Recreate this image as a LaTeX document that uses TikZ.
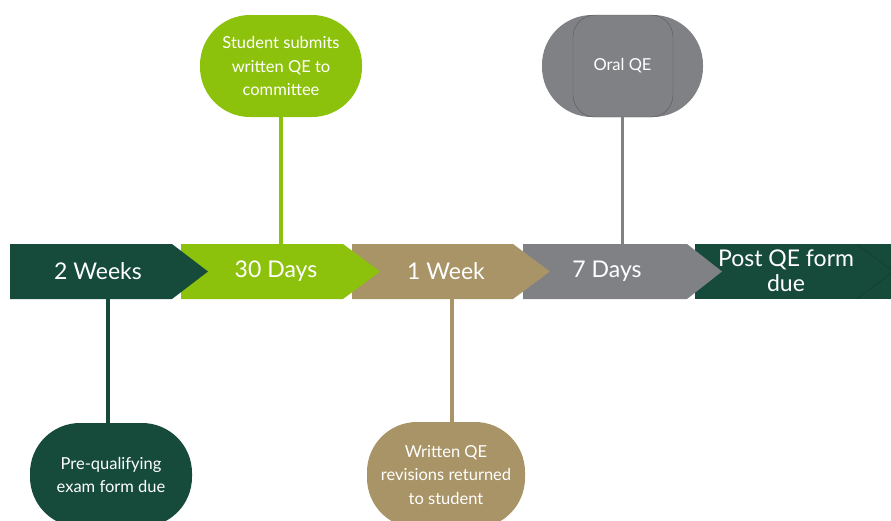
\documentclass[tikz,border=0pt]{standalone}
\usepackage{fontspec}
\setmainfont{Lato}
\definecolor{dkgreen}{HTML}{164B3C}
\definecolor{lime}{HTML}{8CC20B}
\definecolor{tan}{HTML}{A89467}
\definecolor{gry}{HTML}{808185}
\begin{document}
\begin{tikzpicture}[x=1pt,y=-1pt,
  bubble/.style={rounded corners=50pt, text=white, align=center, inner sep=0pt,
    font=\fontsize{16.5}{23.5}\selectfont},
  chevtext/.style={text=white, align=center, inner sep=0pt,
    font=\fontsize{23}{25}\selectfont},
  link/.style={line width=3.5pt}]
\useasboundingbox (0,0) rectangle (891,520);
\begin{scope}
\clip (0,0) rectangle (891,520);
% bubbles
\node[bubble, fill=lime, minimum width=162pt, minimum height=102pt] (b1) at (281,66) {Student submits\\written QE to\\committee};
\node[bubble, fill=gry, minimum width=161pt, minimum height=102pt] (b2) at (622.5,66) {Oral QE};
\draw[gry!70!black, line width=0.4pt, rounded corners=22pt] (573,15) rectangle (673,117);
\node[bubble, fill=dkgreen, minimum width=162pt, minimum height=104pt] (b3) at (111,475) {Pre-qualifying\\exam form due};
\node[bubble, fill=tan, minimum width=158pt, minimum height=106pt] (b4) at (446,475) {Written QE\\revisions returned\\to student};
% chevrons (drawn last to first)
\fill[dkgreen] (695,244) rectangle (891,299);
\draw[dkgreen!80!black, line width=0.5pt] (857,244) -- (893,271.5) -- (857,299);
\fill[gry] (523,244) -- (687,244) -- (722,271.5) -- (687,299) -- (523,299) -- cycle;
\fill[tan] (352,244) -- (513,244) -- (550,271.5) -- (513,299) -- (352,299) -- cycle;
\fill[lime] (181,244) -- (343,244) -- (380,271.5) -- (343,299) -- (181,299) -- cycle;
\fill[dkgreen] (10,244) -- (172,244) -- (208,271.5) -- (172,299) -- (10,299) -- cycle;
\coordinate (top) at (0,244);
\node[chevtext] (c1) at (98,271.5) {2 Weeks};
\node[chevtext] (c2) at (276,271.5) {30 Days};
\node[chevtext] (c3) at (446,271.5) {1 Week};
\node[chevtext] (c4) at (607,271.5) {7 Days};
\node[chevtext] (c5) at (786,271) {Post QE form\\due};
% connectors
\draw[link, lime] (b1.south) -- (b1.south |- top);
\draw[link, gry] (b2.south) -- (b2.south |- top);
\draw[link, dkgreen] (b3.north -| 108,0) -- (108,299);
\draw[link, tan] (b4.north -| 452,0) -- (452,299);
\end{scope}
\end{tikzpicture}
\end{document}
